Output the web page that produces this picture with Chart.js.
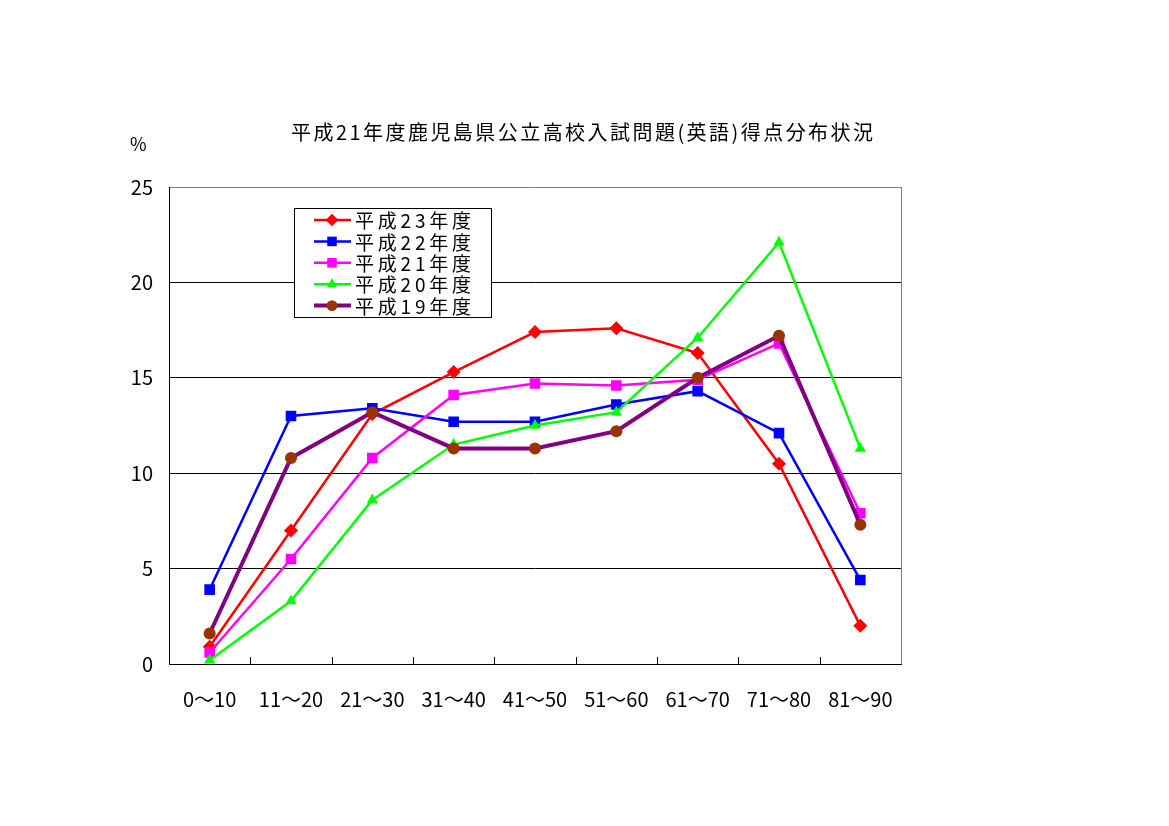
<!DOCTYPE html>
<html>
<head>
<meta charset="utf-8">
<script src="https://cdn.jsdelivr.net/npm/chart.js@4.4.0/dist/chart.umd.min.js"></script>
<style>
  html, body { margin: 0; padding: 0; background: #fff; }
  #wrap { width: 1169px; height: 826px; }
</style>
</head>
<body>
<div id="wrap"><canvas id="chart-tokuten" width="1169" height="826"></canvas></div>
<script>
// 得点分布（%）
const kategorias = ['0〜10', '11〜20', '21〜30', '31〜40', '41〜50', '51〜60', '61〜70', '71〜80', '81〜90'];
const h23 = [0.9, 7.0, 13.1, 15.3, 17.4, 17.6, 16.3, 10.5, 2.0];
const h22 = [3.9, 13.0, 13.4, 12.7, 12.7, 13.6, 14.3, 12.1, 4.4];
const h21 = [0.6, 5.5, 10.8, 14.1, 14.7, 14.6, 14.9, 16.8, 7.9];
const h20 = [0.2, 3.3, 8.6, 11.5, 12.5, 13.2, 17.1, 22.1, 11.3];
const h19 = [1.6, 10.8, 13.2, 11.3, 11.3, 12.2, 15.0, 17.2, 7.3];
const yTicks = [0, 5, 10, 15, 20, 25];

const titulo = '平成21年度鹿児島県公立高校入試問題(英語)得点分布状況';
const FUENTE = '"Noto Sans CJK JP", "Noto Sans", sans-serif';

function serie(label, data, color, estilo, radio, ancho, relleno, orden) {
    return {
        label, data,
        borderColor: color,
        backgroundColor: relleno || color,
        pointBackgroundColor: relleno || color,
        pointBorderColor: relleno || color,
        pointBorderWidth: 0,
        pointStyle: estilo,
        pointRadius: radio,
        borderWidth: ancho,
        tension: 0,
        fill: false,
        order: orden
    };
}

const datasets = [
    serie('平成23年度', h23, '#ff0000', 'rectRot', 7, 2.5, null, 5),
    serie('平成22年度', h22, '#0000ff', 'rect', 7.5, 2.5, null, 4),
    serie('平成21年度', h21, '#ff00ff', 'rect', 7.5, 2.5, null, 3),
    serie('平成20年度', h20, '#00ff00', 'triangle', 6.5, 2.5, null, 2),
    serie('平成19年度', h19, '#800080', 'circle', 6, 4, '#993300', 1)
];

function textoEspaciado(ctx, txt, x, y, anchoTotal) {
    const chars = Array.from(txt);
    const base = chars.reduce((a, c) => a + ctx.measureText(c).width, 0);
    const gap = chars.length > 1 ? (anchoTotal - base) / (chars.length - 1) : 0;
    let cx = x;
    chars.forEach(c => {
        ctx.fillText(c, cx, y);
        cx += ctx.measureText(c).width + gap;
    });
}

function dibujarMarca(ctx, ds, x, y, r) {
    ctx.save();
    ctx.fillStyle = ds.pointBackgroundColor;
    ctx.beginPath();
    if (ds.pointStyle === 'rectRot') {
        ctx.moveTo(x, y - r); ctx.lineTo(x + r, y); ctx.lineTo(x, y + r); ctx.lineTo(x - r, y);
    } else if (ds.pointStyle === 'rect') {
        const s = r * Math.SQRT1_2;
        ctx.rect(x - s, y - s, 2 * s, 2 * s);
    } else if (ds.pointStyle === 'triangle') {
        ctx.moveTo(x, y - r); ctx.lineTo(x + r * 0.87, y + r * 0.5); ctx.lineTo(x - r * 0.87, y + r * 0.5);
    } else {
        ctx.arc(x, y, r, 0, Math.PI * 2);
    }
    ctx.closePath();
    ctx.fill();
    ctx.restore();
}

const decoracion = {
    id: 'decoracion',
    beforeDatasetsDraw(chart) {
        const { ctx, chartArea: a, scales } = chart;
        ctx.save();
        // borde derecho gris
        ctx.strokeStyle = '#808080';
        ctx.lineWidth = 1;
        ctx.beginPath();
        ctx.moveTo(a.right + 0.5, a.top);
        ctx.lineTo(a.right + 0.5, a.bottom);
        ctx.stroke();
        // marcas del eje x entre categorías (hacia dentro)
        ctx.strokeStyle = '#000';
        const x = scales.x;
        for (let i = 1; i < kategorias.length; i++) {
            const px = Math.round((x.getPixelForTick(i - 1) + x.getPixelForTick(i)) / 2) + 0.5;
            ctx.beginPath();
            ctx.moveTo(px, a.bottom - 7);
            ctx.lineTo(px, a.bottom);
            ctx.stroke();
        }
        ctx.restore();
    },
    afterDraw(chart) {
        const { ctx } = chart;
        ctx.save();
        ctx.fillStyle = '#000';
        ctx.textBaseline = 'middle';
        ctx.font = '20px ' + FUENTE;
        textoEspaciado(ctx, titulo, 291, 132, 582);
        ctx.font = '18px ' + FUENTE;
        ctx.fillText('%', 130, 144);

        // leyenda
        const bx = 294, by = 208, bw = 197, bh = 109;
        ctx.fillStyle = '#fff';
        ctx.fillRect(bx, by, bw, bh);
        ctx.strokeStyle = '#000';
        ctx.lineWidth = 1;
        ctx.strokeRect(bx + 0.5, by + 0.5, bw, bh);
        ctx.font = '19px ' + FUENTE;
        chart.data.datasets.forEach((ds, i) => {
            const y = 220 + i * 21.4;
            ctx.strokeStyle = ds.borderColor;
            ctx.lineWidth = ds.borderWidth;
            ctx.beginPath();
            ctx.moveTo(314, y);
            ctx.lineTo(351, y);
            ctx.stroke();
            dibujarMarca(ctx, ds, 332, y, ds.pointRadius * 0.9);
            ctx.fillStyle = '#000';
            textoEspaciado(ctx, ds.label, 355, y + 1, 116);
        });
        ctx.restore();
    }
};

new Chart(document.getElementById('chart-tokuten'), {
    type: 'line',
    data: { labels: kategorias, datasets },
    options: {
        responsive: false,
        animation: false,
        devicePixelRatio: 1,
        layout: { padding: { left: 119, right: 268, top: 187, bottom: 112 } },
        plugins: {
            legend: { display: false },
            title: { display: false },
            tooltip: { enabled: false }
        },
        scales: {
            x: {
                offset: true,
                grid: { display: false },
                border: { display: true, color: '#000', width: 1 },
                ticks: { color: '#000', font: { family: FUENTE, size: 20 }, padding: 15, maxRotation: 0, autoSkip: false },
                afterFit(s) { s.height = 50; }
            },
            y: {
                min: 0,
                max: 25,
                afterBuildTicks(s) { s.ticks = yTicks.map(v => ({ value: v })); },
                grid: {
                    drawTicks: false,
                    color: c => (c.tick && c.tick.value === 25) ? '#808080' : '#000',
                    lineWidth: 1
                },
                border: { display: true, color: '#000', width: 1 },
                ticks: { color: '#000', font: { family: FUENTE, size: 20 }, padding: 16 },
                afterFit(s) { s.width = 50; }
            }
        }
    },
    plugins: [decoracion]
});
</script>
</body>
</html>
